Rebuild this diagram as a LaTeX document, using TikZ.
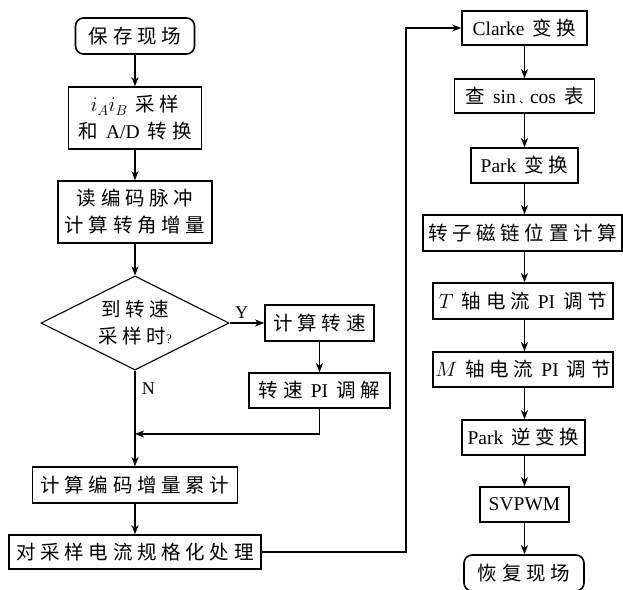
\documentclass[tikz,border=0pt]{standalone}
\usepackage{fontspec}
\setmainfont{Liberation Serif}
\newfontfamily\zh[LetterSpace=24]{Noto Sans CJK SC}
\newfontfamily\zhs{Noto Sans CJK SC}
\newcommand\gp{\hspace{0.42em}}
\usetikzlibrary{arrows.meta,shapes.geometric}
\tikzset{
  box/.style={draw,line width=1.6pt,inner sep=0pt,align=center,font=\fontsize{19.5}{27}\selectfont},
  term/.style={box,rounded corners=8pt},
  link/.style={line width=1.5pt,-{Stealth[length=9pt,width=7pt,inset=2.5pt]}},
  lbl/.style={font=\fontsize{18}{20}\selectfont,inner sep=0pt}
}
\begin{document}
\begin{tikzpicture}[x=1pt,y=-1pt]
\useasboundingbox (0,0) rectangle (623,589);
% left column
\node[term,minimum width=119pt,minimum height=36pt] (start) at (135,36) {\zh 保存现场};
\node[box,minimum width=133pt,minimum height=62pt] (samp) at (135,118) {$i_A i_B$\gp{\zh 采样}\\{\zh 和}\gp A/D\gp{\zh 转换}};
\node[box,minimum width=154pt,minimum height=62pt] (enc) at (135,212) {\zh 读编码脉冲\\\zh 计算转角增量};
\node[diamond,draw,line width=1.1pt,inner sep=0pt,minimum width=188pt,minimum height=94pt,aspect=2,align=center,font=\fontsize{19.5}{27}\selectfont] (dec) at (135,323) {\zh 到转速\\{\zh 采样时}{\fontsize{13}{13}\selectfont ?}};
\node[box,minimum width=109pt,minimum height=36pt] (spd) at (319.5,323) {\zh 计算转速};
\node[box,minimum width=141pt,minimum height=35pt] (pi) at (319.5,390.5) {{\zh 转速}\gp PI\gp{\zh 调解}};
\node[box,minimum width=205pt,minimum height=36pt] (acc) at (135,485) {\zh 计算编码增量累计};
\node[box,minimum width=252pt,minimum height=34pt] (norm) at (135,552) {\zh 对采样电流规格化处理};
% right column
\node[box,minimum width=125pt,minimum height=34pt] (clk) at (524.5,28) {Clarke\gp{\zh 变换}};
\node[box,minimum width=140pt,minimum height=34pt] (sc) at (524.5,96) {{\zh 查}\gp sin\,{\zhs\fontsize{11}{11}\selectfont 、}cos\gp{\zh 表}};
\node[box,minimum width=107pt,minimum height=35pt] (park) at (524.5,165.5) {Park\gp{\zh 变换}};
\node[box,minimum width=199pt,minimum height=36pt] (rot) at (522.5,233) {\zh 转子磁链位置计算};
\node[box,minimum width=180pt,minimum height=36pt] (tax) at (523,301) {$T$\gp{\zh 轴电流}\gp PI\gp{\zh 调节}};
\node[box,minimum width=180pt,minimum height=35pt] (max) at (523,369.5) {$M$\gp{\zh 轴电流}\gp PI\gp{\zh 调节}};
\node[box,minimum width=123pt,minimum height=35pt] (ipk) at (523.5,437.5) {Park\gp{\zh 逆变换}};
\node[box,minimum width=89pt,minimum height=35pt] (svp) at (524.5,504.5) {SVPWM};
\node[term,minimum width=120pt,minimum height=36pt] (fin) at (524,573) {\zh 恢复现场};
% connectors left
\draw[link] (start) -- (samp);
\draw[link] (samp) -- (enc);
\draw[link] (enc) -- (dec);
\draw[link] (dec.east) -- (spd.west) node[lbl,pos=0.35,above=4pt] {Y};
\draw[link] (spd) -- (pi);
\coordinate (mg) at (135,434);
\draw[link] (pi.south) |- (mg);
\draw[link] (dec.south) -- (acc.north) node[lbl,pos=0.19,right=6pt] {N};
\draw[link] (acc) -- (norm);
\coordinate (up) at (406,552);
\coordinate (tp) at (406,28);
\draw[link] (norm.east) -- (up) -- (tp) -- (clk.west);
% connectors right
\draw[link] (clk.south) -- (clk.south |- sc.north);
\draw[link] (sc.south) -- (sc.south |- park.north);
\draw[link] (park.south) -- (park.south |- rot.north);
\draw[link] (park.south |- rot.south) -- (park.south |- tax.north);
\draw[link] (park.south |- tax.south) -- (park.south |- max.north);
\draw[link] (park.south |- max.south) -- (park.south |- ipk.north);
\draw[link] (park.south |- ipk.south) -- (park.south |- svp.north);
\draw[link] (svp.south) -- (svp.south |- fin.north);
\end{tikzpicture}
\end{document}
